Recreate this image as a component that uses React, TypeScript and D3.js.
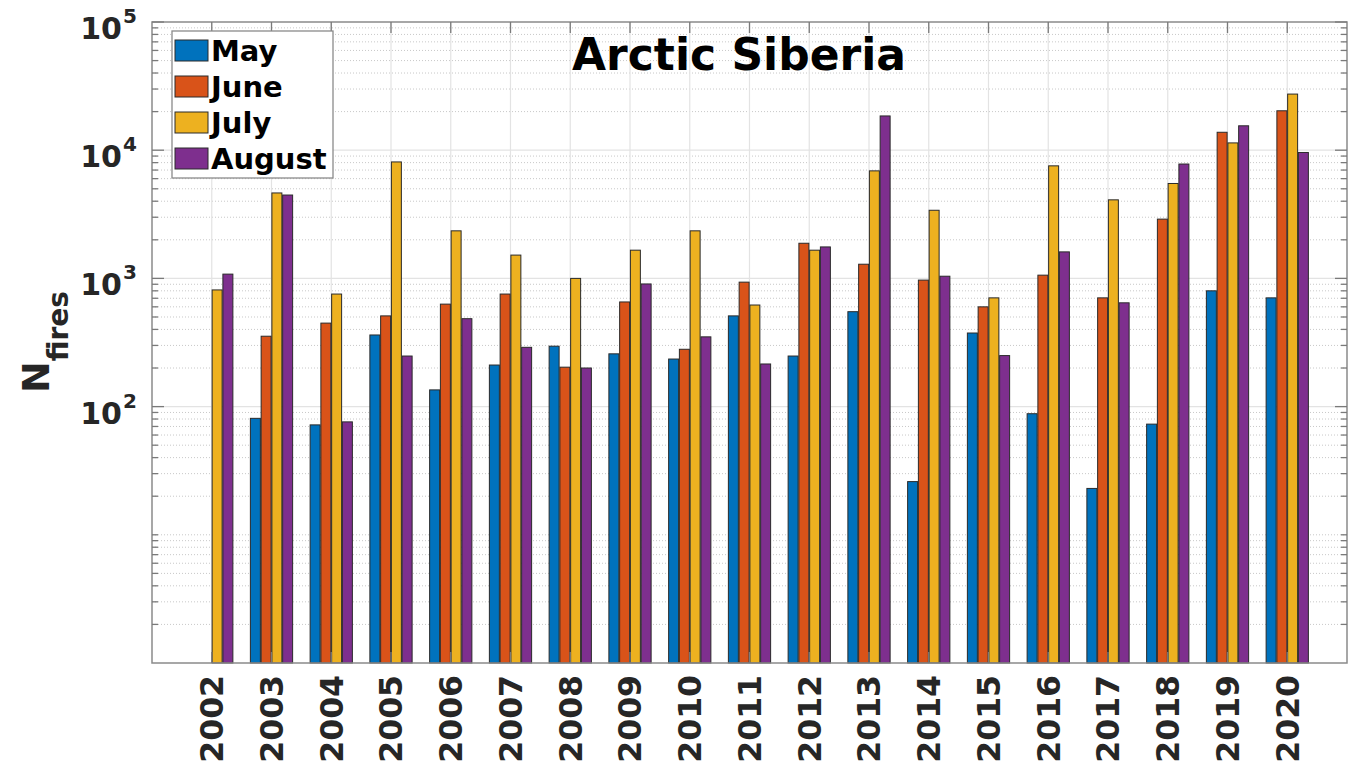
import React from "react";
import * as d3 from "d3";

const years = [2002, 2003, 2004, 2005, 2006, 2007, 2008, 2009, 2010, 2011, 2012, 2013, 2014, 2015, 2016, 2017, 2018, 2019, 2020];

// monthly fire counts (0 = no bar)
const may = [0, 81, 72, 362, 135, 211, 296, 258, 235, 510, 248, 550, 26, 375, 88, 23, 73, 800, 705];
const june = [0, 354, 448, 510, 630, 755, 203, 655, 280, 935, 1880, 1290, 970, 600, 1060, 705, 2900, 13800, 20300];
const july = [813, 4640, 755, 8100, 2350, 1520, 1000, 1660, 2350, 620, 1660, 6900, 3400, 705, 7550, 4100, 5500, 11400, 27400];
const august = [1080, 4470, 76, 248, 485, 290, 200, 905, 350, 215, 1760, 18500, 1040, 250, 1610, 645, 7800, 15500, 9600];

const seriesNames = ["May", "June", "July", "August"];
const seriesColors = ["#0072BD", "#D95319", "#EDB120", "#7E2F8E"];
const yTickValues = [1e2, 1e3, 1e4, 1e5];

const W = 1360;
const H = 766;
const left = 152;
const right = 1347;
const top = 22;
const bottom = 663;
const FONT = "'DejaVu Sans', sans-serif";

export default function App() {
  const x = d3.scaleLinear().domain([2001, 2021]).range([left, right]);
  const y = d3.scaleLog().domain([1, 1e5]).range([bottom, top]);
  const series = [may, june, july, august];
  const pitch = 0.18;
  const barW = x(2001 + 0.167) - x(2001);

  const minorVals: number[] = [];
  for (let e = 0; e < 5; e++) {
    for (let k = 2; k <= 9; k++) minorVals.push(k * Math.pow(10, e));
  }
  minorVals.push(10);

  return (
    <svg width={W} height={H} style={{ position: "absolute", left: 0, top: 0, background: "#fff" }} fontFamily={FONT}>
      {/* minor grid */}
      {minorVals.map((v) => (
        <line key={"mg" + v} x1={left} x2={right} y1={y(v)} y2={y(v)} stroke="#c8c8c8" strokeWidth={1} strokeDasharray="1 2" />
      ))}
      {/* major grid */}
      {yTickValues.slice(0, 3).map((v) => (
        <line key={"g" + v} x1={left} x2={right} y1={y(v)} y2={y(v)} stroke="#e3e3e3" strokeWidth={1.2} />
      ))}
      {years.map((yr) => (
        <line key={"vg" + yr} x1={x(yr)} x2={x(yr)} y1={top} y2={bottom} stroke="#e3e3e3" strokeWidth={1.2} />
      ))}

      {/* bars */}
      {series.map((vals, si) =>
        vals.map((v, i) => {
          if (!v) return null;
          const cx = x(years[i] + (si - 1.5) * pitch);
          return (
            <rect
              key={"b" + si + "-" + i}
              x={cx - barW / 2}
              y={y(v)}
              width={barW}
              height={bottom - y(v)}
              fill={seriesColors[si]}
              stroke="#2a2a2a"
              strokeWidth={1}
            />
          );
        })
      )}

      {/* axes box */}
      <rect x={left} y={top} width={right - left} height={bottom - top} fill="none" stroke="#8a8a8a" strokeWidth={1.5} />

      {/* y ticks both sides */}
      {minorVals.map((v) => (
        <g key={"mt" + v} stroke="#7a7a7a" strokeWidth={1.3}>
          <line x1={left} x2={left + 6} y1={y(v)} y2={y(v)} />
          <line x1={right} x2={right - 6} y1={y(v)} y2={y(v)} />
        </g>
      ))}
      {yTickValues.map((v) => (
        <g key={"t" + v} stroke="#7a7a7a" strokeWidth={1.3}>
          <line x1={left} x2={left + 12} y1={y(v)} y2={y(v)} />
          <line x1={right} x2={right - 12} y1={y(v)} y2={y(v)} />
        </g>
      ))}
      {/* x ticks top and bottom */}
      {years.map((yr) => (
        <g key={"xt" + yr} stroke="#7a7a7a" strokeWidth={1.3}>
          <line x1={x(yr)} x2={x(yr)} y1={top} y2={top + 11} />
          <line x1={x(yr)} x2={x(yr)} y1={bottom} y2={bottom - 11} />
        </g>
      ))}

      {/* y tick labels */}
      {yTickValues.map((v) => {
        const ty = y(v);
        const exp = Math.round(Math.log10(v));
        return (
          <g key={"yl" + v} fill="#262626" fontWeight="bold">
            <text x={122} y={ty + 17} fontSize={30} textAnchor="end">10</text>
            <text x={123} y={ty + 1} fontSize={20}>{exp}</text>
          </g>
        );
      })}

      {/* x tick labels */}
      {years.map((yr) => (
        <text
          key={"xl" + yr}
          transform={`translate(${x(yr)},675) rotate(-90)`}
          textAnchor="end"
          dy="0.36em"
          fontSize={31.5}
          fontWeight="bold"
          fill="#262626"
        >
          {yr}
        </text>
      ))}

      {/* y label */}
      <text transform="translate(49,342) rotate(-90)" textAnchor="middle" fontWeight="bold" fill="#262626">
        <tspan fontSize={38}>N</tspan>
        <tspan fontSize={28} dy={19}>fires</tspan>
      </text>

      {/* title */}
      <text x={739} y={70} textAnchor="middle" fontSize={44} fontWeight="bold" fill="#000">
        Arctic Siberia
      </text>

      {/* legend */}
      <rect x={172} y={31} width={161} height={147} fill="#fff" stroke="#8a8a8a" strokeWidth={1.3} />
      {seriesNames.map((name, i) => (
        <g key={"lg" + name}>
          <rect x={175} y={40 + i * 36} width={33} height={21} fill={seriesColors[i]} stroke="#2a2a2a" strokeWidth={1} />
          <text x={211} y={61 + i * 36} fontSize={29} fontWeight="bold" fill="#000">
            {name}
          </text>
        </g>
      ))}
    </svg>
  );
}
